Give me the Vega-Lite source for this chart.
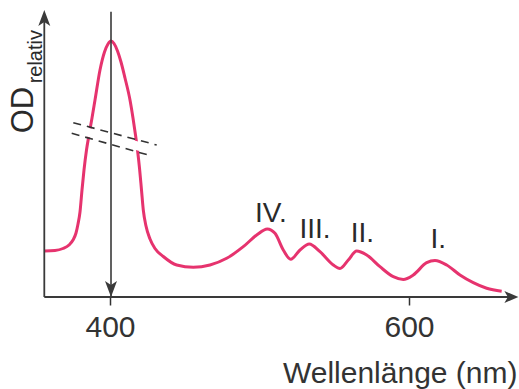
{
  "$schema": "https://vega.github.io/schema/vega-lite/v6.json",
  "width": 475,
  "height": 297,
  "autosize": {"type": "none"},
  "padding": {"left": 44, "top": 0, "right": 0, "bottom": 92},
  "background": "white",
  "config": {"view": {"stroke": null}},
  "datasets": {
    "curve": [
      {"nm": 356.19, "od": 0.46},
      {"nm": 363.21, "od": 0.465},
      {"nm": 368.56, "od": 0.485},
      {"nm": 372.58, "od": 0.52},
      {"nm": 375.25, "od": 0.57},
      {"nm": 377.26, "od": 0.64},
      {"nm": 378.60, "od": 0.73},
      {"nm": 379.93, "od": 0.85},
      {"nm": 381.27, "od": 1.07},
      {"nm": 382.61, "od": 1.27},
      {"nm": 384.28, "od": 1.47},
      {"nm": 385.95, "od": 1.62},
      {"nm": 387.96, "od": 1.79},
      {"nm": 389.97, "od": 1.97},
      {"nm": 393.31, "od": 2.27},
      {"nm": 396.32, "od": 2.45},
      {"nm": 398.66, "od": 2.53},
      {"nm": 400.67, "od": 2.56},
      {"nm": 402.68, "od": 2.535},
      {"nm": 405.02, "od": 2.46},
      {"nm": 407.36, "od": 2.35},
      {"nm": 410.03, "od": 2.19},
      {"nm": 413.38, "od": 1.97},
      {"nm": 415.38, "od": 1.79},
      {"nm": 417.06, "od": 1.62},
      {"nm": 418.39, "od": 1.47},
      {"nm": 419.73, "od": 1.29},
      {"nm": 421.07, "od": 1.07},
      {"nm": 422.27, "od": 0.87},
      {"nm": 424.08, "od": 0.71},
      {"nm": 426.76, "od": 0.58},
      {"nm": 430.10, "od": 0.485},
      {"nm": 435.65, "od": 0.405},
      {"nm": 444.62, "od": 0.32},
      {"nm": 455.72, "od": 0.297},
      {"nm": 466.89, "od": 0.32},
      {"nm": 478.06, "od": 0.387},
      {"nm": 489.16, "od": 0.503},
      {"nm": 498.13, "od": 0.62},
      {"nm": 505.22, "od": 0.68},
      {"nm": 510.37, "od": 0.637},
      {"nm": 515.92, "od": 0.47},
      {"nm": 520.87, "od": 0.377},
      {"nm": 527.09, "od": 0.47},
      {"nm": 533.31, "od": 0.53},
      {"nm": 540.47, "od": 0.453},
      {"nm": 549.36, "od": 0.32},
      {"nm": 553.85, "od": 0.285},
      {"nm": 559.40, "od": 0.37},
      {"nm": 565.02, "od": 0.46},
      {"nm": 571.71, "od": 0.42},
      {"nm": 580.60, "od": 0.303},
      {"nm": 589.50, "od": 0.203},
      {"nm": 596.19, "od": 0.175},
      {"nm": 602.88, "od": 0.22},
      {"nm": 611.84, "od": 0.343},
      {"nm": 617.39, "od": 0.365},
      {"nm": 625.22, "od": 0.32},
      {"nm": 634.11, "od": 0.22},
      {"nm": 643.01, "od": 0.143},
      {"nm": 651.97, "od": 0.087},
      {"nm": 662.01, "od": 0.057}
    ],
    "labels": [
      {"t": "IV.", "nm": 507.6, "od": 0.753},
      {"t": "III.", "nm": 537.1, "od": 0.587},
      {"t": "II.", "nm": 568.9, "od": 0.553},
      {"t": "I.", "nm": 619.6, "od": 0.487}
    ],
    "one": [{}]
  },
  "layer": [
    {
      "data": {"name": "curve"},
      "mark": {"type": "line", "color": "#E6336E", "strokeWidth": 3, "interpolate": "monotone"},
      "encoding": {
        "x": {
          "field": "nm", "type": "quantitative",
          "scale": {"domain": [355.85, 673.6], "nice": false, "zero": false},
          "axis": {
            "values": [400, 600], "domain": false, "grid": false,
            "ticks": true, "tickSize": 8, "tickColor": "#333", "tickWidth": 1.5,
            "labelFont": "Liberation Sans", "labelFontSize": 30, "labelColor": "#333",
            "labelPadding": 7, "labelFlush": false, "labelOverlap": false,
            "title": "Wellenlänge (nm)", "titleFont": "Liberation Sans", "titleFontSize": 30,
            "titleFontWeight": "normal", "titleColor": "#333", "titleAnchor": "end",
            "titleAlign": "right", "titleBaseline": "alphabetic", "titleX": 473, "titleY": 85
          }
        },
        "y": {
          "field": "od", "type": "quantitative",
          "scale": {"domain": [0, 2.97], "nice": false, "zero": false},
          "axis": null
        }
      }
    },
    {
      "data": {"name": "one"},
      "mark": {"type": "rule", "color": "white", "strokeWidth": 9},
      "encoding": {
        "x": {"datum": 374.92, "type": "quantitative"},
        "y": {"datum": 1.69, "type": "quantitative", "axis": null},
        "x2": {"datum": 429.57},
        "y2": {"datum": 1.465}
      }
    },
    {
      "data": {"name": "one"},
      "mark": {"type": "rule", "color": "#3a3a3a", "strokeWidth": 1.6},
      "encoding": {
        "x": {"datum": 400.67, "type": "quantitative"},
        "y": {"datum": 0, "type": "quantitative", "axis": null},
        "y2": {"datum": 2.853}
      }
    },
    {
      "data": {"name": "one"},
      "mark": {"type": "rule", "color": "#333", "strokeWidth": 1.6, "strokeDash": [8, 6]},
      "encoding": {
        "x": {"datum": 375.45, "type": "quantitative"},
        "y": {"datum": 1.743, "type": "quantitative", "axis": null},
        "x2": {"datum": 431.24},
        "y2": {"datum": 1.52}
      }
    },
    {
      "data": {"name": "one"},
      "mark": {"type": "rule", "color": "#333", "strokeWidth": 1.6, "strokeDash": [8, 6]},
      "encoding": {
        "x": {"datum": 374.38, "type": "quantitative"},
        "y": {"datum": 1.637, "type": "quantitative", "axis": null},
        "x2": {"datum": 427.89},
        "y2": {"datum": 1.41}
      }
    },
    {
      "data": {"name": "one"},
      "mark": {"type": "rule", "color": "#3a3a3a", "strokeWidth": 1.8},
      "encoding": {
        "x": {"datum": 356.05, "type": "quantitative"},
        "y": {"datum": 0, "type": "quantitative", "axis": null},
        "x2": {"datum": 668.0},
        "y2": {"datum": 0}
      }
    },
    {
      "data": {"name": "one"},
      "mark": {"type": "rule", "color": "#3a3a3a", "strokeWidth": 1.8},
      "encoding": {
        "x": {"datum": 356.05, "type": "quantitative"},
        "y": {"datum": 0, "type": "quantitative", "axis": null},
        "y2": {"datum": 2.8}
      }
    },
    {
      "data": {"name": "one"},
      "mark": {"type": "point", "filled": true, "color": "#3a3a3a", "opacity": 1, "size": 256,
               "shape": "M0,-1L0.75,1L0,0.5L-0.75,1Z"},
      "encoding": {
        "x": {"datum": 356.05, "type": "quantitative"},
        "y": {"datum": 2.79, "type": "quantitative", "axis": null}
      }
    },
    {
      "data": {"name": "one"},
      "mark": {"type": "point", "filled": true, "color": "#3a3a3a", "opacity": 1, "size": 256,
               "shape": "M0,1L0.75,-1L0,-0.5L-0.75,-1Z"},
      "encoding": {
        "x": {"datum": 400.67, "type": "quantitative"},
        "y": {"datum": 0.08, "type": "quantitative", "axis": null}
      }
    },
    {
      "data": {"name": "one"},
      "mark": {"type": "point", "filled": true, "color": "#3a3a3a", "opacity": 1, "size": 196,
               "shape": "M1,0L-1,0.85L-0.5,0L-1,-0.85Z"},
      "encoding": {
        "x": {"datum": 668.5, "type": "quantitative"},
        "y": {"datum": 0, "type": "quantitative", "axis": null}
      }
    },
    {
      "data": {"name": "labels"},
      "mark": {"type": "text", "font": "Liberation Sans", "fontSize": 28, "color": "#2a2a2a",
               "align": "center", "baseline": "alphabetic"},
      "encoding": {
        "x": {"field": "nm", "type": "quantitative"},
        "y": {"field": "od", "type": "quantitative", "axis": null},
        "text": {"field": "t"}
      }
    },
    {
      "data": {"name": "one"},
      "mark": {"type": "text", "font": "Liberation Sans", "fontSize": 31, "color": "#2a2a2a",
               "align": "center", "baseline": "alphabetic", "angle": 270, "text": "OD"},
      "encoding": {
        "x": {"datum": 348.5, "type": "quantitative"},
        "y": {"datum": 1.87, "type": "quantitative", "axis": null}
      }
    },
    {
      "data": {"name": "one"},
      "mark": {"type": "text", "font": "Liberation Sans", "fontSize": 20, "color": "#2a2a2a",
               "align": "center", "baseline": "alphabetic", "angle": 270, "text": "relativ"},
      "encoding": {
        "x": {"datum": 354.18, "type": "quantitative"},
        "y": {"datum": 2.403, "type": "quantitative", "axis": null}
      }
    }
  ]
}
